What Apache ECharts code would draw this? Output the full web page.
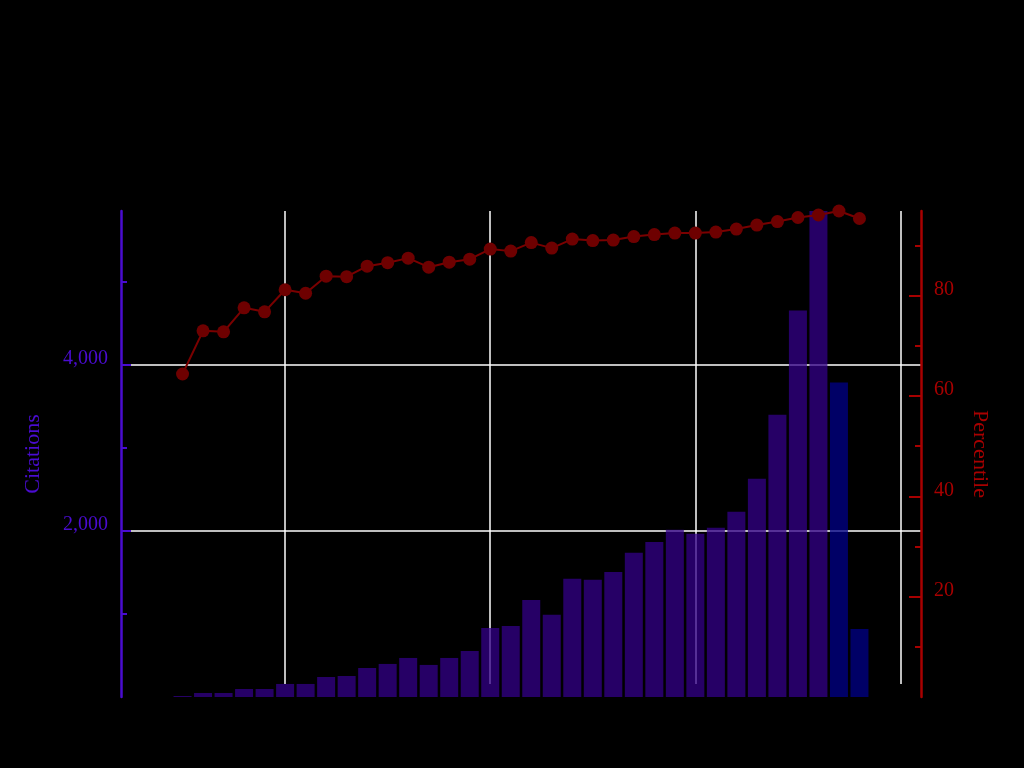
<!DOCTYPE html>
<html>
<head>
<meta charset="utf-8">
<script src="https://cdn.jsdelivr.net/npm/echarts@6/dist/echarts.min.js"></script>
<style>
html,body{margin:0;padding:0;background:#000;}
#chart{width:1024px;height:768px;}
</style>
</head>
<body>
<div id="chart"></div>
<script>
// ---- data ----
const years = [1985,1986,1987,1988,1989,1990,1991,1992,1993,1994,1995,1996,1997,1998,1999,2000,2001,2002,2003,2004,2005,2006,2007,2008,2009,2010,2011,2012,2013,2014,2015,2016,2017,2018];
const citations = [12,48,48,96,96,157,157,241,253,349,398,470,386,470,554,831,855,1169,990,1422,1410,1506,1735,1867,2012,1964,2036,2229,2627,3398,4651,5850,3785,819];
const percentile = [64.4,73.0,72.8,77.6,76.8,81.2,80.5,83.9,83.8,85.9,86.6,87.5,85.7,86.7,87.3,89.3,88.9,90.6,89.5,91.3,91.0,91.1,91.8,92.2,92.5,92.5,92.7,93.3,94.1,94.8,95.6,96.1,96.9,95.4];
const citationMajorTicks = [2000, 4000];
const citationMinorTicks = [1000, 3000, 5000];
const percentileMajorTicks = [20, 40, 60, 80];
const percentileMinorTicks = [10, 30, 50, 70, 90];
const yearGridLines = [1990, 2020]; // first and last decade line
const yearRange = [1982, 2021];

const citMax = Math.max(...citations);
const pctMax = Math.max(...percentile);

const FONT = 'Liberation Serif';
const PURPLE = '#4a0cd0';
const RED = '#a80000';

// main plot area in pixels
const G = {left: 121, right: 103, top: 211, bottom: 71};
const pxPerYear = (1024 - G.left - G.right) / (yearRange[1] - yearRange[0]);

const chart = echarts.init(document.getElementById('chart'), null, {renderer: 'canvas'});
const option = {
  backgroundColor: '#000',
  animation: false,
  grid: [
    {left: G.left, right: G.right, top: G.top, bottom: G.bottom, outerBoundsMode: 'none'},
    {
      left: G.left + (yearGridLines[0] - yearRange[0]) * pxPerYear,
      right: G.right + (yearRange[1] - yearGridLines[1]) * pxPerYear,
      top: G.top, bottom: G.bottom + 13, outerBoundsMode: 'none'
    }
  ],
  xAxis: [
    {type: 'value', gridIndex: 0, min: yearRange[0], max: yearRange[1], show: false},
    {
      type: 'value', gridIndex: 1, min: yearGridLines[0], max: yearGridLines[1], interval: 10,
      axisLine: {show: false}, axisTick: {show: false}, axisLabel: {show: false},
      splitLine: {show: true, lineStyle: {color: '#ffffff', width: 1.5}}
    }
  ],
  yAxis: [
    {
      type: 'value', gridIndex: 0, position: 'left', min: 0, max: citMax, interval: 2000,
      axisLine: {show: true, lineStyle: {color: PURPLE, width: 2.5}},
      axisTick: {show: true, inside: true, length: 10, customValues: citationMajorTicks, lineStyle: {color: PURPLE, width: 2}},
      axisLabel: {show: true, customValues: citationMajorTicks, margin: 13, verticalAlign: 'bottom', lineHeight: 12,
        color: PURPLE, fontFamily: FONT, fontSize: 20,
        formatter: v => Number(v).toLocaleString('en-US')},
      splitLine: {show: true, lineStyle: {color: '#ffffff', width: 1.5}},
      name: 'Citations', nameLocation: 'middle', nameGap: 77,
      nameTextStyle: {color: PURPLE, fontFamily: FONT, fontSize: 22}
    },
    {
      type: 'value', gridIndex: 0, position: 'left', min: 0, max: citMax,
      axisLine: {show: false}, axisLabel: {show: false}, splitLine: {show: false},
      axisTick: {show: true, inside: true, length: 6, customValues: citationMinorTicks, lineStyle: {color: PURPLE, width: 2}}
    },
    {
      type: 'value', gridIndex: 0, position: 'right', min: 0, max: pctMax, interval: 20,
      axisLine: {show: true, lineStyle: {color: RED, width: 2.5}},
      axisTick: {show: true, inside: true, length: 12, customValues: percentileMajorTicks, lineStyle: {color: RED, width: 2}},
      axisLabel: {show: true, customValues: percentileMajorTicks, margin: 13, verticalAlign: 'bottom', lineHeight: 12,
        color: RED, fontFamily: FONT, fontSize: 20},
      splitLine: {show: false},
      name: 'Percentile', nameLocation: 'middle', nameGap: 48, nameRotate: -90,
      nameTextStyle: {color: RED, fontFamily: FONT, fontSize: 22}
    },
    {
      type: 'value', gridIndex: 0, position: 'right', min: 0, max: pctMax,
      axisLine: {show: false}, axisLabel: {show: false}, splitLine: {show: false},
      axisTick: {show: true, inside: true, length: 6, customValues: percentileMinorTicks, lineStyle: {color: RED, width: 2}}
    },
    {type: 'value', gridIndex: 1, min: 0, max: 1, show: false}
  ],
  series: [
    {
      type: 'bar', xAxisIndex: 0, yAxisIndex: 0, barWidth: 18,
      data: years.map((y, i) => [y, citations[i]]),
      itemStyle: {
        opacity: 0.75,
        color: p => p.dataIndex >= citations.length - 2 ? '#000088' : '#330088'
      }
    },
    {
      type: 'line', xAxisIndex: 0, yAxisIndex: 2,
      data: years.map((y, i) => [y, percentile[i]]),
      symbol: 'circle', symbolSize: 13,
      lineStyle: {color: '#7a0000', width: 2},
      itemStyle: {color: '#6e0000'}
    }
  ]
};
chart.setOption(option);
</script>
</body>
</html>
